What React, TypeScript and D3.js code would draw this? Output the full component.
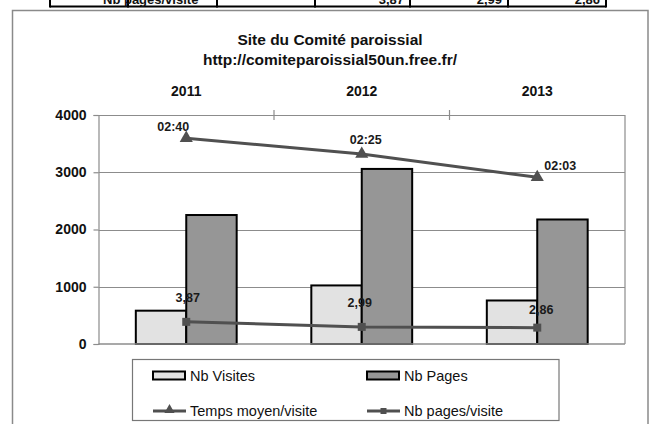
import React, { useEffect, useRef } from "react";
import * as d3 from "d3";

// values
const years = ["2011", "2012", "2013"];
const nbVisites = [582, 1023, 760];
const nbPages = [2253, 3058, 2175];
const tempsMoyenSec = [160, 145, 123];
const tempsLabels = ["02:40", "02:25", "02:03"];
const pagesParVisite = [3.87, 2.99, 2.86];
const pagesParVisiteLabels = ["3,87", "2,99", "2,86"];
const yTicks = [0, 1000, 2000, 3000, 4000];
// cropped table row above the chart
const tableCells = ["Nb pages/visite", "", "3,87", "2,99", "2,86"];

const W = 653;
const H = 424;
const fontBold = "Arial, 'Liberation Sans', sans-serif";

const App = () => {
  const ref = useRef<SVGSVGElement>(null);

  useEffect(() => {
    const svg = d3.select(ref.current);
    svg.selectAll("*").remove();

    const plot = { left: 98.5, right: 625, top: 115, bottom: 344 };

    const x = d3.scaleBand<string>().domain(years).range([plot.left, plot.right]);
    const x1 = d3
      .scaleBand<string>()
      .domain(["visites", "pages"])
      .range([0, x.bandwidth()])
      .paddingOuter(0.74);
    const y = d3.scaleLinear([0, 4000], [plot.bottom, plot.top]);
    // hidden secondary axes for the two lines
    const yTime = d3.scaleLinear([-35, 182], [plot.bottom, plot.top]);
    const yPv = d3.scaleLinear([0, 40], [plot.bottom, plot.top]);

    svg.append("rect").attr("width", W).attr("height", H).attr("fill", "#fff");

    // table row cut at the top
    const tableX = [50, 128, 217, 315, 410, 508, 606];
    svg
      .append("line")
      .attr("x1", 50)
      .attr("x2", 606)
      .attr("y1", 6.5)
      .attr("y2", 6.5)
      .attr("stroke", "#000")
      .attr("stroke-width", 2);
    tableX.forEach((tx) =>
      svg
        .append("line")
        .attr("x1", tx)
        .attr("x2", tx)
        .attr("y1", 0)
        .attr("y2", 7.5)
        .attr("stroke", "#000")
        .attr("stroke-width", 2)
    );
    svg
      .append("text")
      .attr("x", 103)
      .attr("y", 4)
      .attr("font-family", fontBold)
      .attr("font-weight", "bold")
      .attr("font-size", 13)
      .attr("fill", "#111")
      .text(tableCells[0]);
    [2, 3, 4].forEach((i) =>
      svg
        .append("text")
        .attr("x", tableX[i + 2] - 6)
        .attr("y", 4)
        .attr("text-anchor", "end")
        .attr("font-family", fontBold)
        .attr("font-weight", "bold")
        .attr("font-size", 13)
        .attr("fill", "#111")
        .text(tableCells[i])
    );

    // chart frame
    svg
      .append("rect")
      .attr("x", 12.5)
      .attr("y", 10.5)
      .attr("width", 635.5)
      .attr("height", 430)
      .attr("fill", "none")
      .attr("stroke", "#8a8a8a")
      .attr("stroke-width", 1.5);

    // titles
    const title = svg
      .append("g")
      .attr("font-family", fontBold)
      .attr("font-weight", "bold")
      .attr("font-size", 15.5)
      .attr("fill", "#111")
      .attr("text-anchor", "middle");
    title.append("text").attr("x", 330).attr("y", 45).text("Site du Comité paroissial");
    title
      .append("text")
      .attr("x", 330)
      .attr("y", 65)
      .text("http://comiteparoissial50un.free.fr/");

    // gridlines
    svg
      .append("g")
      .selectAll("line")
      .data(yTicks.filter((d) => d > 0))
      .join("line")
      .attr("x1", plot.left)
      .attr("x2", plot.right)
      .attr("y1", (d) => Math.round(y(d)) + 0.5)
      .attr("y2", (d) => Math.round(y(d)) + 0.5)
      .attr("stroke", "#8c8c8c")
      .attr("stroke-width", 1.2);

    // right border of plot area
    svg
      .append("line")
      .attr("x1", plot.right)
      .attr("x2", plot.right)
      .attr("y1", plot.top)
      .attr("y2", plot.bottom)
      .attr("stroke", "#8c8c8c")
      .attr("stroke-width", 1.2);

    // top category axis
    svg
      .append("g")
      .attr("transform", `translate(0,${Math.round(y(4000)) + 0.5})`)
      .call(d3.axisTop(x).tickSize(0).tickPadding(20))
      .call((g) => g.select(".domain").remove())
      .call((g) =>
        g
          .selectAll(".tick text")
          .attr("font-family", fontBold)
          .attr("font-weight", "bold")
          .attr("font-size", 14)
          .attr("fill", "#111")
      );
    svg
      .append("g")
      .selectAll("line")
      .data(years.slice(1))
      .join("line")
      .attr("x1", (d) => (x(d) as number))
      .attr("x2", (d) => (x(d) as number))
      .attr("y1", plot.top - 5)
      .attr("y2", plot.top + 5)
      .attr("stroke", "#8c8c8c")
      .attr("stroke-width", 1.2);

    // left value axis
    svg
      .append("g")
      .attr("transform", `translate(${plot.left},0)`)
      .call(d3.axisLeft(y).tickValues(yTicks).tickSize(5).tickPadding(7).tickFormat(d3.format("d")))
      .call((g) => g.select(".domain").attr("stroke", "#8c8c8c").attr("stroke-width", 1.2))
      .call((g) => g.selectAll(".tick line").attr("stroke", "#8c8c8c").attr("stroke-width", 1.2))
      .call((g) =>
        g
          .selectAll(".tick text")
          .attr("font-family", fontBold)
          .attr("font-weight", "bold")
          .attr("font-size", 14)
          .attr("fill", "#111")
      );

    // bars
    const series = [
      { key: "visites", values: nbVisites, fill: "#e2e2e2" },
      { key: "pages", values: nbPages, fill: "#969696" },
    ];
    series.forEach((s) =>
      svg
        .append("g")
        .selectAll("rect")
        .data(s.values)
        .join("rect")
        .attr("x", (_, i) => (x(years[i]) as number) + (x1(s.key) as number))
        .attr("y", (d) => y(d))
        .attr("width", x1.bandwidth())
        .attr("height", (d) => y(0) - y(d))
        .attr("fill", s.fill)
        .attr("stroke", "#000")
        .attr("stroke-width", 2)
    );

    // x axis baseline
    svg
      .append("line")
      .attr("x1", plot.left)
      .attr("x2", plot.right)
      .attr("y1", y(0))
      .attr("y2", y(0))
      .attr("stroke", "#8c8c8c")
      .attr("stroke-width", 1.5);

    const cx = (i: number) => (x(years[i]) as number) + x.bandwidth() / 2;
    const lineColor = "#505050";

    // Temps moyen/visite
    svg
      .append("path")
      .attr(
        "d",
        d3.line<number>().x((_, i) => cx(i)).y((d) => yTime(d))(tempsMoyenSec)
      )
      .attr("fill", "none")
      .attr("stroke", lineColor)
      .attr("stroke-width", 3);
    svg
      .append("g")
      .selectAll("path")
      .data(tempsMoyenSec)
      .join("path")
      .attr("transform", (d, i) => `translate(${cx(i)},${yTime(d)})`)
      .attr("d", d3.symbol(d3.symbolTriangle, 75)())
      .attr("fill", lineColor);

    // Nb pages/visite
    svg
      .append("path")
      .attr(
        "d",
        d3.line<number>().x((_, i) => cx(i)).y((d) => yPv(d))(pagesParVisite)
      )
      .attr("fill", "none")
      .attr("stroke", lineColor)
      .attr("stroke-width", 3);
    svg
      .append("g")
      .selectAll("rect")
      .data(pagesParVisite)
      .join("rect")
      .attr("x", (_, i) => cx(i) - 4)
      .attr("y", (d) => yPv(d) - 4)
      .attr("width", 8)
      .attr("height", 8)
      .attr("fill", lineColor);

    // data labels (manually moved in the original)
    const timeDx = [-13, 4, 23];
    const timeDy = [-7.5, -10, -7];
    const pvDx = [1.5, -2, 4];
    const pvDy = [-20, -20, -14];
    const labelStyle = (sel: any) =>
      sel
        .attr("font-family", fontBold)
        .attr("font-weight", "bold")
        .attr("font-size", 12.5)
        .attr("fill", "#1a1a1a")
        .attr("text-anchor", "middle");
    svg
      .append("g")
      .call(labelStyle)
      .selectAll("text")
      .data(tempsMoyenSec)
      .join("text")
      .attr("x", (_, i) => cx(i) + timeDx[i])
      .attr("y", (d, i) => yTime(d) + timeDy[i])
      .text((_, i) => tempsLabels[i]);
    svg
      .append("g")
      .call(labelStyle)
      .selectAll("text")
      .data(pagesParVisite)
      .join("text")
      .attr("x", (_, i) => cx(i) + pvDx[i])
      .attr("y", (d, i) => yPv(d) + pvDy[i])
      .text((_, i) => pagesParVisiteLabels[i]);

    // legend
    const legend = svg.append("g");
    legend
      .append("rect")
      .attr("x", 132.5)
      .attr("y", 359.5)
      .attr("width", 426.5)
      .attr("height", 61)
      .attr("fill", "#fff")
      .attr("stroke", "#777")
      .attr("stroke-width", 1.2);
    const items = [
      { label: "Nb Visites", kind: "bar", fill: "#e2e2e2", lx: 153, ly: 375.5 },
      { label: "Nb Pages", kind: "bar", fill: "#969696", lx: 367, ly: 375.5 },
      { label: "Temps moyen/visite", kind: "tri", fill: lineColor, lx: 153, ly: 411 },
      { label: "Nb pages/visite", kind: "sq", fill: lineColor, lx: 367, ly: 411 },
    ];
    items.forEach((it) => {
      if (it.kind === "bar") {
        legend
          .append("rect")
          .attr("x", it.lx)
          .attr("y", it.ly - 4)
          .attr("width", 32)
          .attr("height", 8)
          .attr("fill", it.fill)
          .attr("stroke", "#000")
          .attr("stroke-width", 2);
      } else {
        legend
          .append("line")
          .attr("x1", it.lx)
          .attr("x2", it.lx + 33)
          .attr("y1", it.ly)
          .attr("y2", it.ly)
          .attr("stroke", lineColor)
          .attr("stroke-width", 3);
        if (it.kind === "tri") {
          legend
            .append("path")
            .attr("transform", `translate(${it.lx + 16.5},${it.ly - 1})`)
            .attr("d", d3.symbol(d3.symbolTriangle, 45)())
            .attr("fill", lineColor);
        } else {
          legend
            .append("rect")
            .attr("x", it.lx + 13.5)
            .attr("y", it.ly - 3)
            .attr("width", 6)
            .attr("height", 6)
            .attr("fill", lineColor);
        }
      }
      legend
        .append("text")
        .attr("x", it.lx + 37)
        .attr("y", it.ly + 5)
        .attr("font-family", fontBold)
        .attr("font-size", 14.5)
        .attr("fill", "#111")
        .text(it.label);
    });
  }, []);

  return (
    <svg
      ref={ref}
      width={W}
      height={H}
      style={{ position: "absolute", left: 0, top: 0 }}
    />
  );
};

export default App;
